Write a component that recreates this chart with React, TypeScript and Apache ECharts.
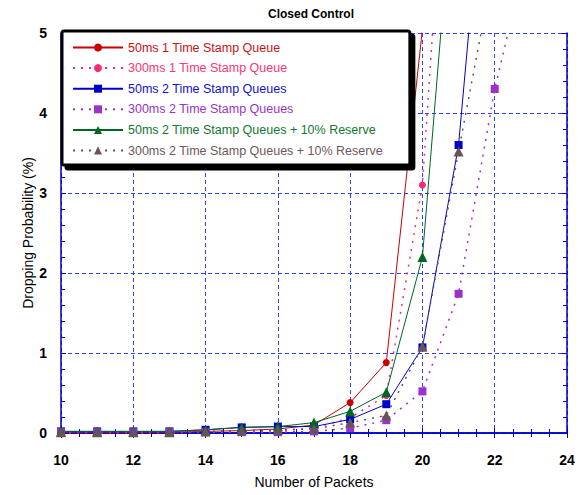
import React, { useEffect, useRef } from "react";
import * as echarts from "echarts";

const FONT = "Arial, 'Liberation Sans', sans-serif";

// Number of packets (x positions)
const packets = [10, 11, 12, 13, 14, 15, 16, 17, 18, 19, 20, 21, 22, 23];

// Dropping probability (%) per configuration, starting at 10 packets
const red50ms1Q = [0.01, 0.01, 0.01, 0.01, 0.02, 0.03, 0.05, 0.1, 0.38, 0.88, 5.05];
const pink300ms1Q = [0.0, 0.0, 0.0, 0.0, 0.01, 0.02, 0.03, 0.06, 0.19, 0.47, 3.1, 9.9];
const blue50ms2Q = [0.02, 0.02, 0.02, 0.02, 0.04, 0.07, 0.08, 0.08, 0.17, 0.36, 1.07, 3.6, 8.6];
const purple300ms2Q = [0.01, 0.01, 0.01, 0.01, 0.01, 0.01, 0.01, 0.02, 0.06, 0.16, 0.52, 1.74, 4.3, 6.2];
const green50ms2QRes = [0.02, 0.02, 0.02, 0.02, 0.04, 0.07, 0.08, 0.13, 0.27, 0.51, 2.2, 7.7];
const brown300ms2QRes = [0.01, 0.01, 0.01, 0.01, 0.02, 0.03, 0.04, 0.05, 0.13, 0.22, 1.08, 3.52, 5.9];

const seriesDefs = [
  { name: "50ms 1 Time Stamp Queue", values: red50ms1Q, color: "#cc0000", text: "#cc1111", dotted: false, symbol: "circle", size: 7 },
  { name: "300ms 1 Time Stamp Queue", values: pink300ms1Q, color: "#ff2a6d", text: "#ff3377", dotted: true, symbol: "circle", size: 7 },
  { name: "50ms 2 Time Stamp Queues", values: blue50ms2Q, color: "#0000cc", text: "#1111cc", dotted: false, symbol: "rect", size: 8 },
  { name: "300ms 2 Time Stamp Queues", values: purple300ms2Q, color: "#9933cc", text: "#9933cc", dotted: true, symbol: "rect", size: 8 },
  { name: "50ms 2 Time Stamp Queues + 10% Reserve", values: green50ms2QRes, color: "#006622", text: "#117733", dotted: false, symbol: "triangle", size: 10 },
  { name: "300ms 2 Time Stamp Queues + 10% Reserve", values: brown300ms2QRes, color: "#665555", text: "#6b5a5a", dotted: true, symbol: "triangle", size: 10 },
];

const AXIS_BLUE = "#0000cc";
const GRID_BLUE = "#3040ff";

export default function App() {
  const ref = useRef<HTMLDivElement>(null);

  useEffect(() => {
    if (!ref.current) return;
    const chart = echarts.init(ref.current, null, { renderer: "svg" });

    const axisTickCommon = {
      show: true,
      inside: true,
      length: 5,
      lineStyle: { color: AXIS_BLUE, width: 1 },
    };
    const minorTickCommon = {
      show: true,
      length: 4,
      lineStyle: { color: AXIS_BLUE, width: 1 },
    };

    chart.setOption({
      animation: false,
      backgroundColor: "#ffffff",
      grid: { left: 61, right: 12, top: 33, bottom: 62 },
      graphic: [
        {
          type: "text",
          x: 311,
          y: 14,
          style: {
            text: "Closed Control",
            font: `bold 12px ${FONT}`,
            fill: "#000",
            textAlign: "center",
            textVerticalAlign: "middle",
          },
        },
      ],
      legend: {
        orient: "vertical",
        left: 62,
        top: 31,
        padding: [10, 27, 8, 10],
        itemWidth: 50,
        itemHeight: 10,
        itemGap: 7.6,
        backgroundColor: "#ffffff",
        borderColor: "#000000",
        borderWidth: 3,
        borderRadius: 2,
        shadowColor: "#000000",
        shadowBlur: 0,
        shadowOffsetX: 4,
        shadowOffsetY: 4,
        textStyle: { fontFamily: FONT, fontSize: 12.5 },
        data: seriesDefs.map((s) => ({ name: s.name, textStyle: { color: s.text } })),
      },
      xAxis: [
        {
          type: "value",
          min: 10,
          max: 24,
          interval: 2,
          name: "Number of Packets",
          nameLocation: "middle",
          nameGap: 42,
          nameMoveOverlap: false,
          nameTextStyle: { fontFamily: FONT, fontSize: 14, color: "#000" },
          axisLine: { show: true, lineStyle: { color: AXIS_BLUE, width: 1.5 } },
          axisTick: axisTickCommon,
          minorTick: { ...minorTickCommon, splitNumber: 4 },
          axisLabel: { fontFamily: FONT, fontSize: 14, fontWeight: "bold", color: "#000", margin: 20 },
          splitLine: { show: true, lineStyle: { color: GRID_BLUE, type: [4, 3], width: 1 } },
        },
        {
          type: "value",
          position: "top",
          min: 10,
          max: 24,
          interval: 2,
          axisLine: { show: true, lineStyle: { color: AXIS_BLUE, width: 1.5 } },
          axisTick: axisTickCommon,
          minorTick: { ...minorTickCommon, splitNumber: 4 },
          axisLabel: { show: false },
          splitLine: { show: false },
        },
      ],
      yAxis: [
        {
          type: "value",
          min: 0,
          max: 5,
          interval: 1,
          name: "Dropping Probability (%)",
          nameLocation: "middle",
          nameGap: 26,
          nameMoveOverlap: false,
          nameTextStyle: { fontFamily: FONT, fontSize: 14, color: "#000" },
          axisLine: { show: true, lineStyle: { color: AXIS_BLUE, width: 1.5 } },
          axisTick: axisTickCommon,
          minorTick: { ...minorTickCommon, splitNumber: 5 },
          axisLabel: { fontFamily: FONT, fontSize: 14, fontWeight: "bold", color: "#000", margin: 14 },
          splitLine: { show: true, lineStyle: { color: GRID_BLUE, type: [4, 3], width: 1 } },
        },
        {
          type: "value",
          position: "right",
          min: 0,
          max: 5,
          interval: 1,
          axisLine: { show: true, lineStyle: { color: AXIS_BLUE, width: 1.5 } },
          axisTick: axisTickCommon,
          minorTick: { ...minorTickCommon, splitNumber: 5 },
          axisLabel: { show: false },
          splitLine: { show: false },
        },
      ],
      series: seriesDefs.map((s) => ({
        name: s.name,
        type: "line",
        xAxisIndex: 0,
        yAxisIndex: 0,
        clip: true,
        data: s.values.map((v, i) => [packets[i], v]),
        symbol: s.symbol,
        symbolSize: s.size,
        showAllSymbol: true,
        color: s.color,
        itemStyle: { color: s.color },
        lineStyle: {
          color: s.color,
          width: s.dotted ? 1.5 : 1,
          type: s.dotted ? [2, 6] : "solid",
        },
      })),
    });

    return () => chart.dispose();
  }, []);

  return (
    <div
      ref={ref}
      style={{ position: "fixed", left: 0, top: 0, width: 579, height: 495 }}
    />
  );
}
